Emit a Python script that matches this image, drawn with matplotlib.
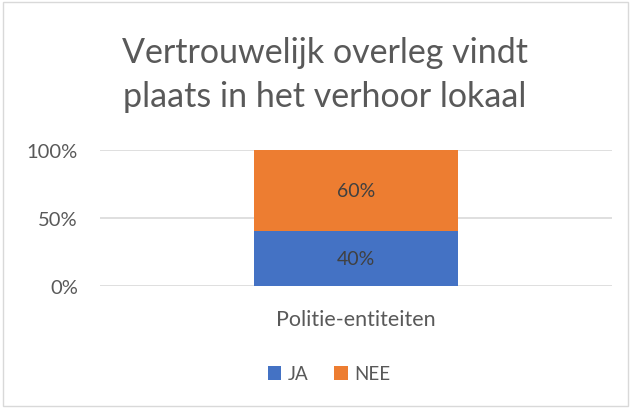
import matplotlib.pyplot as plt
from matplotlib.patches import Rectangle

plt.rcParams['font.family'] = ['Lato', 'DejaVu Sans']

categories = ['Politie-entiteiten']
series_names = ['JA', 'NEE']
ja_values = [0.40]
nee_values = [0.60]
ytick_values = [0, 0.5, 1.0]
ytick_labels = ['0%', '50%', '100%']
title = 'Vertrouwelijk overleg vindt\nplaats in het verhoor lokaal'

BLUE = '#4472C4'
ORANGE = '#ED7D31'
TEXT = '#595959'
GRID = '#D9D9D9'

fig = plt.figure(figsize=(6.32, 4.10), dpi=100)
fig.patches.append(Rectangle((3 / 632, 3 / 410), 625 / 632, 404 / 410,
                             transform=fig.transFigure, fill=False,
                             edgecolor=GRID, linewidth=1))

ax = fig.add_axes([100 / 632, 123.3 / 410, 512 / 632, 136 / 410])

x = list(range(len(categories)))
b1 = ax.bar(x, ja_values, width=0.4, color=BLUE, label=series_names[0], zorder=2)
b2 = ax.bar(x, nee_values, width=0.4, bottom=ja_values, color=ORANGE,
            label=series_names[1], zorder=2)

for bars, vals, bottoms in ((b1, ja_values, [0] * len(ja_values)),
                            (b2, nee_values, ja_values)):
    for rect, v, b in zip(bars, vals, bottoms):
        ax.text(rect.get_x() + rect.get_width() / 2, b + v / 2,
                '{:.0f}%'.format(v * 100), ha='center', va='center',
                fontsize=14, color='#404040', zorder=3)

ax.set_xlim(-0.5, 0.5)
ax.set_ylim(0, 1.0)
ax.set_yticks(ytick_values)
ax.set_yticklabels(ytick_labels)
ax.set_xticks(x)
ax.set_xticklabels(categories)
ax.tick_params(axis='y', length=0, labelsize=14.5, labelcolor=TEXT, pad=16)
ax.tick_params(axis='x', length=0, labelsize=15.5, labelcolor=TEXT, pad=17)
ax.yaxis.grid(True, color=GRID, linewidth=1.2, zorder=0)
ax.set_axisbelow(True)
for s in ax.spines.values():
    s.set_visible(False)

fig.text(325 / 632, 1 - 75 / 410, title, ha='center', va='center',
         fontsize=24.5, color=TEXT, linespacing=1.45)

fig.legend(handles=[b1, b2], labels=series_names, loc='center',
           bbox_to_anchor=(329 / 632, 1 - 375 / 410), ncol=2, frameon=False,
           fontsize=13.5, labelcolor=TEXT, handlelength=0.7, handleheight=0.7,
           handletextpad=0.35, columnspacing=1.4)

fig.savefig('out.png', dpi=100)
